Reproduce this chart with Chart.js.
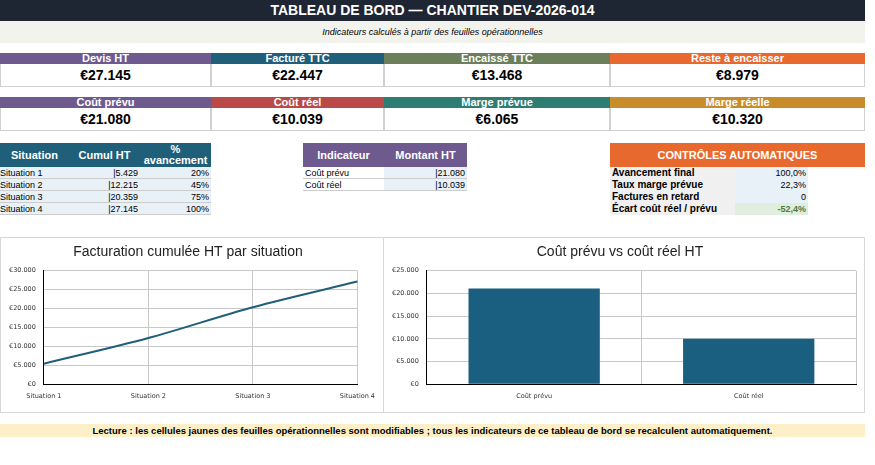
<!DOCTYPE html>
<html><head><meta charset="utf-8">
<script src="https://cdn.jsdelivr.net/npm/chart.js@4"></script>
<style>
body{margin:0;width:875px;height:465px;background:#fff;font-family:"Liberation Sans",Arial,sans-serif;position:relative;overflow:hidden}
.a{position:absolute;box-sizing:border-box}
.lab{color:#fff;font-weight:bold;font-size:11px;text-align:center;line-height:11px}
.val{font-weight:bold;font-size:14px;text-align:center;line-height:23px;border:1px solid #d0d0d0;border-top:none}
.th{color:#fff;font-weight:bold;font-size:11px;text-align:center;display:flex;align-items:center;justify-content:center;line-height:11px}
.td{font-size:9px;line-height:12px;border-bottom:1px solid #ccc;white-space:nowrap;padding:0 2px}
.r{text-align:right}
.b{font-weight:bold;font-size:10px}
</style></head><body>
<div class="a" style="left:0;top:0;width:865px;height:21px;background:#1e2633;color:#fff;font-weight:bold;font-size:14px;text-align:center;line-height:21px">TABLEAU DE BORD — CHANTIER DEV-2026-014</div>
<div class="a" style="left:0;top:21px;width:865px;height:22px;background:#f3f3ee;font-style:italic;font-size:9px;text-align:center;line-height:22px">Indicateurs calculés à partir des feuilles opérationnelles</div>
<div id="kpis"></div>
<div id="tables"></div>
<div class="a" style="left:0;top:237px;width:384px;height:176px;border:1px solid #d8d8d8"><canvas id="c1"></canvas></div>
<div class="a" style="left:384px;top:237px;width:481px;height:176px;border:1px solid #d8d8d8;border-left:none"><canvas id="c2"></canvas></div>
<div class="a" style="left:0;top:424px;width:865px;height:13px;background:#fdf0c8;font-weight:bold;font-size:9.5px;text-align:center;line-height:13px">Lecture : les cellules jaunes des feuilles opérationnelles sont modifiables ; tous les indicateurs de ce tableau de bord se recalculent automatiquement.</div>
<script>
const kpiLabels1=["Devis HT","Facturé TTC","Encaissé TTC","Reste à encaisser"];
const kpiValues1=["€27.145","€22.447","€13.468","€8.979"];
const kpiLabels2=["Coût prévu","Coût réel","Marge prévue","Marge réelle"];
const kpiValues2=["€21.080","€10.039","€6.065","€10.320"];
const situations=["Situation 1","Situation 2","Situation 3","Situation 4"];
const cumulHT=[5429,12215,20359,27145];
const avancement=["20%","45%","75%","100%"];
const costLabels=["Coût prévu","Coût réel"];
const costValues=[21080,10039];
const ctrlLabels=["Avancement final","Taux marge prévue","Factures en retard","Écart coût réel / prévu"];
const ctrlValues=["100,0%","22,3%","0","-52,4%"];

const fmt=v=>v.toLocaleString('de-DE');
const cols=[[0,211],[211,384],[384,610],[610,865]];
let h='';
[[kpiLabels1,kpiValues1,53,["#6e5a8f","#1f5f7a","#6b7f5b","#e8692e"]],[kpiLabels2,kpiValues2,97,["#6e5a8f","#b94a48","#2e7d72","#c98c2a"]]].forEach(([L,V,y,C])=>{
 cols.forEach((c,i)=>{
  h+=`<div class="a lab" style="left:${c[0]}px;top:${y}px;width:${c[1]-c[0]}px;height:11px;background:${C[i]}">${L[i]}</div>`;
  h+=`<div class="a val" style="left:${c[0]}px;top:${y+11}px;width:${c[1]-c[0]}px;height:23px">${V[i]}</div>`;
 });
});
document.getElementById('kpis').innerHTML=h;
h='';
const t1=[[0,69,"Situation"],[69,140,"Cumul HT"],[140,211,"%<br>avancement"]];
t1.forEach(c=>h+=`<div class="a th" style="left:${c[0]}px;top:143px;width:${c[1]-c[0]}px;height:24px;background:#1f5f7a">${c[2]}</div>`);
situations.forEach((s,i)=>{const y=167+i*12;
 h+=`<div class="a td" style="left:0;top:${y}px;width:69px;height:12px;background:#e8f0f8;padding:0">${s}</div>`;
 h+=`<div class="a td r" style="left:69px;top:${y}px;width:71px;height:12px;background:#e8f0f8">|${fmt(cumulHT[i])}</div>`;
 h+=`<div class="a td r" style="left:140px;top:${y}px;width:71px;height:12px;background:#e8f0f8">${avancement[i]}</div>`;});
h+=`<div class="a th" style="left:303px;top:143px;width:81px;height:24px;background:#6e5a8f">Indicateur</div>`;
h+=`<div class="a th" style="left:384px;top:143px;width:83px;height:24px;background:#6e5a8f">Montant HT</div>`;
costLabels.forEach((s,i)=>{const y=167+i*12;
 h+=`<div class="a td" style="left:303px;top:${y}px;width:81px;height:12px">${s}</div>`;
 h+=`<div class="a td r" style="left:384px;top:${y}px;width:83px;height:12px;background:#e8f0f8">|${fmt(costValues[i])}</div>`;});
h+=`<div class="a th" style="left:610px;top:143px;width:255px;height:24px;background:#e8692e">CONTRÔLES AUTOMATIQUES</div>`;
ctrlLabels.forEach((s,i)=>{const y=167+i*12;const g=i==3;
 h+=`<div class="a td b" style="left:610px;top:${y}px;width:125px;height:12px;background:#f0f0f0;border:none">${s}</div>`;
 h+=`<div class="a td r" style="left:735px;top:${y}px;width:73px;height:12px;border:none;background:${g?'#dfeedd':'#e8f0f8'};${g?'color:#4e7a45;font-weight:bold':''}">${ctrlValues[i]}</div>`;});
document.getElementById('tables').innerHTML=h;

Chart.defaults.font.family='"DejaVu Sans",sans-serif';
Chart.defaults.animation=false;
const grid={color:'#c8c8c8',borderDash:[3,3],drawTicks:false};
const common=(title,max)=>({responsive:true,maintainAspectRatio:false,
 layout:{padding:{left:0,right:8,top:0,bottom:4}},
 plugins:{legend:{display:false},title:{display:true,text:title,font:{family:'"Liberation Sans",Arial',size:14,weight:'normal'},color:'#222',padding:{top:6,bottom:10}},tooltip:{enabled:false}},
 scales:{x:{grid:grid,border:{color:'#000',width:1},ticks:{font:{size:6.5},color:'#333',padding:8}},
  y:{min:0,max:max,grid:grid,border:{color:'#000',width:1},ticks:{stepSize:5000,font:{size:6.5},color:'#333',padding:8,callback:v=>'€'+fmt(v)}}}});
new Chart(document.getElementById('c1'),{type:'line',data:{labels:situations,datasets:[{data:cumulHT,borderColor:'#1f5f7a',borderWidth:2,pointRadius:0,tension:0.3,cubicInterpolationMode:'monotone'}]},options:common('Facturation cumulée HT par situation',30000)});
new Chart(document.getElementById('c2'),{type:'bar',data:{labels:costLabels,datasets:[{data:costValues,backgroundColor:'#1a5f80',categoryPercentage:0.68,barPercentage:0.9}]},options:common('Coût prévu vs coût réel HT',25000)});
</script></body></html>
